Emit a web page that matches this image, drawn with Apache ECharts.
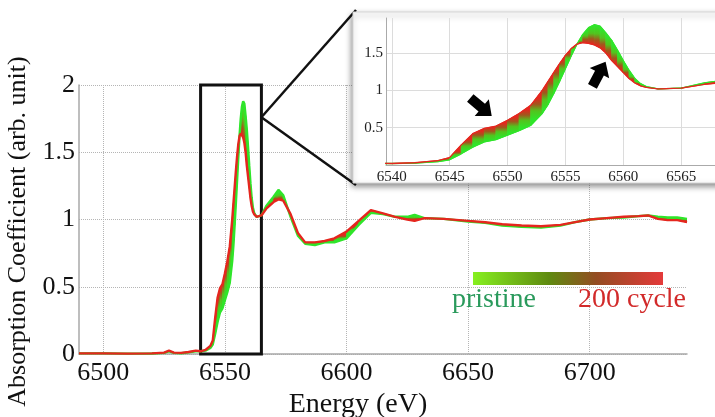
<!DOCTYPE html>
<html>
<head>
<meta charset="utf-8">
<script src="https://cdn.jsdelivr.net/npm/echarts@6/dist/echarts.min.js"></script>
<style>
html, body { margin: 0; padding: 0; background: #fff; }
#chart { width: 715px; height: 417px; }
</style>
</head>
<body>
<div id="chart"></div>
<script>
const energy = [6490, 6500, 6510, 6520, 6525, 6527, 6529, 6532, 6535, 6538,
    6540, 6542, 6544, 6545, 6546, 6547, 6548, 6549, 6550, 6551,
    6552, 6553, 6553.5, 6554, 6554.5, 6555, 6555.5, 6556, 6556.5, 6557,
    6557.5, 6558, 6558.5, 6559, 6559.5, 6560, 6560.5, 6561, 6561.5, 6562,
    6563, 6565, 6567, 6570, 6572, 6574, 6577, 6580, 6583, 6587,
    6591, 6595, 6600, 6605, 6610, 6615, 6620, 6625, 6628, 6632,
    6640, 6650, 6657, 6664, 6672, 6680, 6688, 6694, 6700, 6707,
    6714, 6720, 6724, 6728, 6732, 6736, 6740];

const pristine = [0.005, 0.005, 0.003, 0.004, 0.008, 0.02, 0.008, 0.006, 0.012, 0.02,
    0.02, 0.025, 0.045, 0.07, 0.15, 0.24, 0.31, 0.34, 0.40, 0.46,
    0.53, 0.69, 0.81, 0.96, 1.12, 1.29, 1.46, 1.62, 1.75, 1.84,
    1.88, 1.86, 1.77, 1.67, 1.54, 1.40, 1.27, 1.16, 1.09, 1.05,
    1.02, 1.03, 1.10, 1.17, 1.22, 1.18, 1.02, 0.88, 0.82, 0.81,
    0.83, 0.83, 0.86, 0.96, 1.05, 1.04, 1.02, 1.02, 1.035, 1.01,
    1.005, 0.985, 0.975, 0.955, 0.945, 0.94, 0.955, 0.98, 1.0, 1.01,
    1.015, 1.025, 1.03, 1.02, 1.015, 1.015, 1.005];

const cycle200 = [0.005, 0.005, 0.003, 0.005, 0.01, 0.025, 0.01, 0.008, 0.015, 0.025,
    0.02, 0.03, 0.06, 0.10, 0.27, 0.42, 0.49, 0.52, 0.60, 0.69,
    0.80, 1.00, 1.12, 1.24, 1.36, 1.47, 1.56, 1.62, 1.64, 1.63,
    1.61, 1.57, 1.50, 1.40, 1.32, 1.24, 1.16, 1.10, 1.06, 1.04,
    1.02, 1.03, 1.08, 1.13, 1.15, 1.14, 1.04, 0.90, 0.83, 0.83,
    0.84, 0.86, 0.91, 0.99, 1.07, 1.045, 1.02, 1.00, 0.99, 1.01,
    1.005, 0.99, 0.98, 0.965, 0.955, 0.95, 0.96, 0.98, 1.0, 1.01,
    1.02, 1.025, 1.03, 1.005, 0.995, 0.995, 0.98];

const mainTicks = [6500, 6550, 6600, 6650, 6700];
const insetTicks = [6540, 6545, 6550, 6555, 6560, 6565];
const insetYTicks = [0.5, 1, 1.5];
const zoomBox = [[6540, 0], [6565, 2]];

const GREEN = "#2fe52a";
const RED = "#e5261e";
const SERIF = "Liberation Serif";

const bandStops = [
    { offset: 0, color: GREEN },
    { offset: 0.4, color: "#52c41e" },
    { offset: 0.7, color: "#a0581c" },
    { offset: 1, color: RED }
];

function pairs(values) {
    return energy.map((e, i) => [e, values[i]]);
}

function bandData() {
    const out = [];
    for (let i = 0; i < energy.length - 1; i++) {
        out.push([energy[i], energy[i + 1], pristine[i], pristine[i + 1], cycle200[i], cycle200[i + 1]]);
    }
    return out;
}

function renderBand(params, api) {
    const g0 = api.coord([api.value(0), api.value(2)]);
    const g1 = api.coord([api.value(1), api.value(3)]);
    const r1 = api.coord([api.value(1), api.value(5)]);
    const r0 = api.coord([api.value(0), api.value(4)]);
    const mx = (g0[0] + g1[0]) / 2;
    const gy = (g0[1] + g1[1]) / 2;
    let ry = (r0[1] + r1[1]) / 2;
    if (Math.abs(ry - gy) < 0.5) ry = gy + (ry >= gy ? 0.5 : -0.5);
    const fill = new echarts.graphic.LinearGradient(mx, gy, mx, ry, bandStops, true);
    return {
        type: "polygon",
        shape: { points: [g0, g1, r1, r0] },
        style: { fill: fill, stroke: fill, lineWidth: 0.6 }
    };
}

function curveSeries(axis, zl, width) {
    return [
        {
            type: "custom",
            xAxisIndex: axis, yAxisIndex: axis,
            zlevel: zl, z: 3,
            clip: true,
            renderItem: renderBand,
            encode: { x: [0, 1], y: [2, 3, 4, 5] },
            data: bandData(),
            silent: true
        },
        {
            type: "line",
            xAxisIndex: axis, yAxisIndex: axis,
            zlevel: zl, z: 4,
            data: pairs(pristine),
            showSymbol: false,
            lineStyle: { color: GREEN, width: width }
        },
        {
            type: "line",
            xAxisIndex: axis, yAxisIndex: axis,
            zlevel: zl, z: 5,
            data: pairs(cycle200),
            showSymbol: false,
            lineStyle: { color: RED, width: width }
        }
    ];
}

const plain = v => String(v);

const chart = echarts.init(document.getElementById("chart"));

const series = curveSeries(0, 0, 2.4).concat(curveSeries(1, 1, 1.3));

series[2].markArea = {
    silent: true,
    itemStyle: { color: "rgba(0,0,0,0)", borderColor: "#111", borderWidth: 3 },
    data: [[{ coord: zoomBox[0] }, { coord: zoomBox[1] }]]
};

chart.setOption({
    animation: false,
    grid: [
        { left: 79, right: 28, top: 85, bottom: 63, outerBoundsMode: "none", containLabel: false },
        { left: 386, right: -24, top: 18, bottom: 252, outerBoundsMode: "none", containLabel: false }
    ],
    xAxis: [
        {
            type: "value",
            gridIndex: 0,
            min: 6490,
            max: 6740,
            name: "Energy (eV)",
            nameLocation: "middle",
            nameGap: 34,
            nameTextStyle: { fontFamily: SERIF, fontSize: 28, color: "#111", padding: [0, 50, 0, 0] },
            axisLine: { lineStyle: { color: "#a8a8a8", width: 1.5 } },
            axisTick: { show: false, customValues: mainTicks },
            axisLabel: { customValues: mainTicks, formatter: plain, fontFamily: SERIF, fontSize: 26, color: "#111", margin: 6 },
            splitLine: { show: true, lineStyle: { color: "#b5b5b5", type: "dotted" } }
        },
        {
            type: "value",
            gridIndex: 1,
            min: 6539.5,
            max: 6570,
            zlevel: 1,
            z: 2,
            axisLine: { lineStyle: { color: "#aaa" } },
            axisTick: { show: false, customValues: insetTicks },
            axisLabel: { customValues: insetTicks, formatter: plain, fontFamily: SERIF, fontSize: 15, color: "#222", margin: 5 },
            splitLine: { show: true, lineStyle: { color: "#dcdcdc" } }
        }
    ],
    yAxis: [
        {
            type: "value",
            gridIndex: 0,
            min: 0,
            max: 2,
            interval: 0.5,
            name: "Absorption Coefficient (arb. unit)",
            nameLocation: "middle",
            nameGap: 48,
            nameTextStyle: { fontFamily: SERIF, fontSize: 26, color: "#111", padding: [0, 24, 0, 0] },
            axisLine: { show: true, lineStyle: { color: "#a8a8a8", width: 1.5 } },
            axisTick: { show: false },
            axisLabel: { formatter: plain, fontFamily: SERIF, fontSize: 26, color: "#111", margin: 4 },
            splitLine: { show: true, lineStyle: { color: "#b5b5b5", type: "dotted" } }
        },
        {
            type: "value",
            gridIndex: 1,
            min: 0,
            max: 1.97,
            zlevel: 1,
            z: 2,
            axisLine: { show: true, lineStyle: { color: "#aaa" } },
            axisTick: { show: false, customValues: insetYTicks },
            axisLabel: { customValues: insetYTicks, formatter: plain, fontFamily: SERIF, fontSize: 15, color: "#222", margin: 3 },
            splitLine: { show: true, lineStyle: { color: "#dcdcdc" } }
        }
    ],
    series: series
});

function arrow(id, cx, cy, angleDeg) {
    return {
        id: id,
        type: "polygon",
        zlevel: 1,
        z: 10,
        x: cx,
        y: cy,
        rotation: angleDeg * Math.PI / 180,
        shape: { points: [[-14, -5], [1, -5], [1, -11], [14, 0], [1, 11], [1, 5], [-14, 5]] },
        style: { fill: "#000" }
    };
}

const apex = chart.convertToPixel({ gridIndex: 0 }, [zoomBox[1][0], 1.76]);

chart.setOption({
    graphic: {
        elements: [
            {
                id: "linkTop", type: "line", zlevel: 0, z: 20,
                shape: { x1: apex[0], y1: apex[1], x2: 356, y2: 10 },
                style: { stroke: "#111", lineWidth: 2.5 }
            },
            {
                id: "linkBottom", type: "line", zlevel: 0, z: 20,
                shape: { x1: apex[0], y1: apex[1], x2: 356, y2: 185 },
                style: { stroke: "#111", lineWidth: 2.5 }
            },
            {
                id: "frame", type: "rect", zlevel: 1, z: 0,
                shape: { x: 353, y: 12, width: 380, height: 171 },
                style: {
                    fill: "#fff", stroke: "#d6d6d6", lineWidth: 1,
                    shadowBlur: 6, shadowColor: "rgba(0,0,0,0.45)", shadowOffsetX: -1, shadowOffsetY: 3
                }
            },
            arrow("arrowDown", 481, 107, -40),
            arrow("arrowUp", 599, 74, 62),
            {
                id: "bar", type: "rect", zlevel: 0, z: 20,
                shape: { x: 473, y: 272, width: 190, height: 13 },
                style: {
                    fill: new echarts.graphic.LinearGradient(0, 0, 1, 0, [
                        { offset: 0, color: "#86f020" },
                        { offset: 0.4, color: "#5f8a10" },
                        { offset: 0.65, color: "#944c22" },
                        { offset: 1, color: "#e43a3a" }
                    ])
                }
            },
            {
                id: "pristineLabel", type: "text", zlevel: 0, z: 20,
                x: 494, y: 300,
                style: { text: "pristine", fill: "#2a9a5c", font: "28px " + SERIF, align: "center", verticalAlign: "middle" }
            },
            {
                id: "cycleLabel", type: "text", zlevel: 0, z: 20,
                x: 632, y: 300,
                style: { text: "200 cycle", fill: "#d22a2a", font: "28px " + SERIF, align: "center", verticalAlign: "middle" }
            }
        ]
    }
});
</script>
</body>
</html>
